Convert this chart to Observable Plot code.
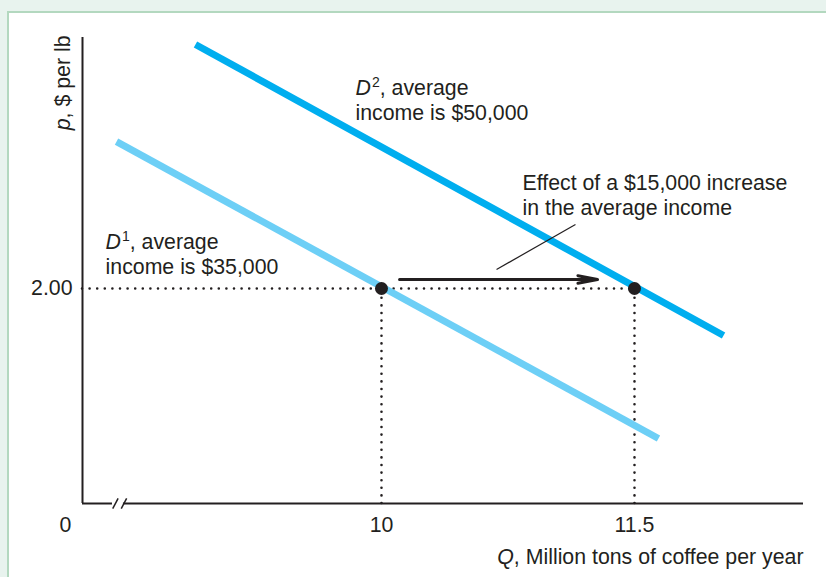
<!DOCTYPE html>
<html>
<head>
<meta charset="utf-8">
<script src="https://cdn.jsdelivr.net/npm/d3@7"></script>
<script src="https://cdn.jsdelivr.net/npm/@observablehq/plot@0.6"></script>
<style>
  html, body { margin: 0; padding: 0; width: 826px; height: 577px; overflow: hidden; background: #e8f3ee; }
  #panel { position: absolute; left: 7px; top: 11px; width: 900px; height: 700px; background: #ffffff; border: 2px solid #b3d8bf; }
  #chart { position: absolute; left: 0; top: 0; }
</style>
</head>
<body>
<div id="panel"></div>
<div id="chart"></div>
<script>
// ---- data (Q in million tons, p in $ per lb) ----
const qOrigin = 8.2273;          // broken axis: value sitting at the origin
const qMax = 12.502;
const pMax = 4.335;
const qTicks = [10, 11.5];
const pTicks = [2.00];
const originLabel = ["0"];

// demand curves (end points)
const d1Q = [8.429, 11.642];
const d1P = [3.367, 0.605];
const d2Q = [8.897, 12.028];
const d2P = [4.270, 1.563];

// equilibrium points
const eqQ = [10, 11.5];
const eqP = [2, 2];

// shift arrow
const arrowQ = [10.107, 11.281];
const arrowP = [2.084, 2.084];

// leader line to annotation
const leaderQ = [10.682, 11.150];
const leaderP = [2.177, 2.595];

// axis break
const breakQ = [8.405, 8.470];
const slashQ = [8.4225, 8.473];
const slashHalfQ = 0.016;
const slashHalfP = 0.047;

// annotations
const labelText = ["D1, average\nincome is $35,000", "D2, average\nincome is $50,000", "Effect of a $15,000 increase\nin the average income"];
const labelQ = [8.364, 9.846, 10.836];
const labelP = [2.530, 3.963, 3.079];

const xLabel = "Q, Million tons of coffee per year";
const yLabel = "p, $ per lb";

// ---- build tables ----
const d1 = d1Q.map((q, i) => ({q, p: d1P[i]}));
const d2 = d2Q.map((q, i) => ({q, p: d2P[i]}));
const eq = eqQ.map((q, i) => ({q, p: eqP[i]}));
const labels = labelText.map((t, i) => ({t, q: labelQ[i], p: labelP[i]}));
const slashes = slashQ.map(q => ({x1: q - slashHalfQ, y1: -slashHalfP, x2: q + slashHalfQ, y2: slashHalfP}));

const ink = "#231f20";
const font = "'Liberation Sans', Arial, Helvetica, sans-serif";
const fs = 21.3;

const plot = Plot.plot({
  width: 826,
  height: 577,
  marginLeft: 82,
  marginRight: 23,
  marginTop: 37,
  marginBottom: 74,
  style: {background: "transparent", fontFamily: font, fontSize: fs + "px", color: ink, overflow: "visible"},
  x: {domain: [qOrigin, qMax]},
  y: {domain: [0, pMax]},
  marks: [
    // dotted guides
    Plot.ruleY(eq.slice(1), {y: "p", x1: qOrigin, x2: "q", stroke: ink, strokeWidth: 2.6, strokeDasharray: "0 7.6", strokeLinecap: "round"}),
    Plot.ruleX(eq, {x: "q", y1: 0, y2: "p", stroke: ink, strokeWidth: 2.6, strokeDasharray: "0 7.6", strokeLinecap: "round"}),
    // demand curves
    Plot.line(d1, {x: "q", y: "p", stroke: "#6dcff6", strokeWidth: 7, strokeLinecap: "butt"}),
    Plot.line(d2, {x: "q", y: "p", stroke: "#00aeef", strokeWidth: 7, strokeLinecap: "butt"}),
    // equilibrium dots
    Plot.dot(eq, {x: "q", y: "p", r: 6.5, fill: ink}),
    // shift arrow
    Plot.arrow([{x1: arrowQ[0], y1: arrowP[0], x2: arrowQ[1], y2: arrowP[1]}], {x1: "x1", y1: "y1", x2: "x2", y2: "y2", stroke: ink, strokeWidth: 3, headLength: 10, headAngle: 22}),
    // leader line
    Plot.link([{x1: leaderQ[0], y1: leaderP[0], x2: leaderQ[1], y2: leaderP[1]}], {x1: "x1", y1: "y1", x2: "x2", y2: "y2", stroke: ink, strokeWidth: 1.2}),
    // annotations
    Plot.text(labels, {x: "q", y: "p", text: "t", textAnchor: "start", lineAnchor: "top", lineHeight: 1.16, fontSize: fs, fill: ink}),
    // axes lines (with break)
    Plot.ruleX([qOrigin], {y1: 0, y2: pMax, stroke: ink, strokeWidth: 2}),
    Plot.ruleY([0], {x1: qOrigin, x2: breakQ[0], stroke: ink, strokeWidth: 2}),
    Plot.ruleY([0], {x1: breakQ[1], x2: qMax, stroke: ink, strokeWidth: 2}),
    Plot.link(slashes, {x1: "x1", y1: "y1", x2: "x2", y2: "y2", stroke: ink, strokeWidth: 1.5}),
    // tick labels
    Plot.axisX({ticks: qTicks, tickSize: 0, tickPadding: 13, tickFormat: d => String(d), fontSize: fs, label: null, fill: ink}),
    Plot.axisY({ticks: pTicks, tickSize: 0, tickPadding: 10, tickFormat: d3.format(".2f"), fontSize: fs, label: null, fill: ink}),
    Plot.text(originLabel, {x: qOrigin, y: 0, text: d => d, dx: -17, dy: 13, lineAnchor: "top", fontSize: fs, fill: ink}),
    // axis titles
    Plot.text([xLabel], {frameAnchor: "bottom-right", text: d => d, textAnchor: "end", lineAnchor: "top", dy: 45, fontSize: fs, fill: ink}),
    Plot.text([yLabel], {frameAnchor: "top-left", text: d => d, rotate: -90, textAnchor: "end", lineAnchor: "middle", dx: -19, dy: -2, fontSize: fs, fill: ink})
  ]
});

document.getElementById("chart").appendChild(plot);

// rich text: italic variables and superscripts
d3.select(plot).selectAll("text, tspan").each(function() {
  if (this.childElementCount) return;
  const s = this.textContent;
  const el = d3.select(this);
  let m;
  if ((m = s.match(/^D(\d)(, average)$/))) {
    el.text(null);
    el.append("tspan").attr("font-style", "italic").text("D");
    el.append("tspan").attr("font-size", "14px").attr("dx", "1").attr("dy", "-8.5").text(m[1]);
    el.append("tspan").attr("dy", "8.5").text(m[2]);
  } else if ((m = s.match(/^([Qp])(, .*)$/))) {
    el.text(null);
    el.append("tspan").attr("font-style", "italic").text(m[1]);
    el.append("tspan").text(m[2]);
  }
});
</script>
</body>
</html>
